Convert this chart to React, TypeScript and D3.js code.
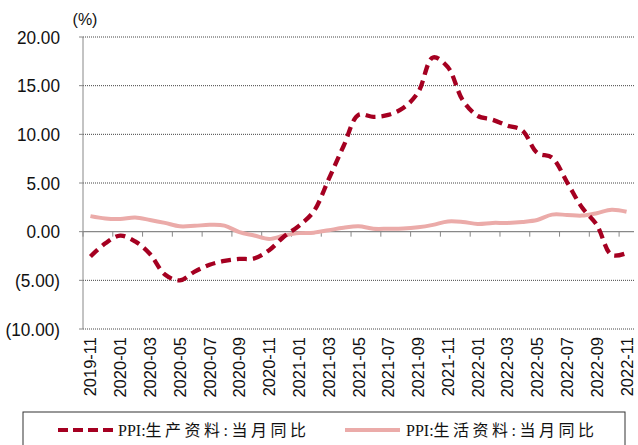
import React from "react";
import * as d3 from "d3";

const categories: string[] = [
  "2019-11","2019-12","2020-01","2020-02","2020-03","2020-04","2020-05","2020-06","2020-07","2020-08","2020-09","2020-10",
  "2020-11","2020-12","2021-01","2021-02","2021-03","2021-04","2021-05","2021-06","2021-07","2021-08","2021-09","2021-10",
  "2021-11","2021-12","2022-01","2022-02","2022-03","2022-04","2022-05","2022-06","2022-07","2022-08","2022-09","2022-10","2022-11",
];

const producerGoods: number[] = [
  -2.55, -1.2, -0.4, -1.0, -2.3, -4.4, -5.0, -4.1, -3.4, -3.0, -2.8, -2.75,
  -1.9, -0.5, 0.6, 2.1, 5.4, 8.8, 12.0, 11.8, 12.0, 12.7, 14.3, 17.9,
  16.9, 13.5, 11.9, 11.5, 10.9, 10.4, 8.1, 7.6, 5.1, 2.5, 0.7, -2.4, -2.2,
];

const consumerGoods: number[] = [
  1.6, 1.35, 1.3, 1.45, 1.2, 0.9, 0.55, 0.6, 0.7, 0.62, -0.05, -0.4,
  -0.75, -0.4, -0.15, -0.1, 0.15, 0.4, 0.55, 0.3, 0.3, 0.32, 0.45, 0.7,
  1.05, 1.0, 0.8, 0.9, 0.9, 1.0, 1.2, 1.75, 1.72, 1.65, 1.9, 2.25, 2.05,
];

const yTicks: number[] = [20, 15, 10, 5, 0, -5, -10];
const seriesPrefix = "PPI:";
const seriesNames: string[] = ["生产资料:当月同比", "生活资料:当月同比"];

const fmt = (v: number) => (v < 0 ? `(${Math.abs(v).toFixed(2)})` : v.toFixed(2));

export default function App() {
  const W = 638, H = 445;
  const left = 83, right = 634, top = 37, bottom = 329;
  const x = d3.scaleBand<string>().domain(categories).range([left, right]).padding(0);
  const y = d3.scaleLinear().domain([-10, 20]).range([bottom, top]);
  const cx = (i: number) => (x(categories[i]) as number) + x.bandwidth() / 2;
  const line = d3
    .line<number>()
    .x((_, i) => cx(i))
    .y((d) => y(d))
    .curve(d3.curveCatmullRom.alpha(0.5));
  const y0 = y(0);
  const sans = "'Liberation Sans', Arial, sans-serif";
  const serif = "'Liberation Serif', 'Noto Sans CJK SC', serif";
  const tickIdx = d3.range(0, categories.length + 1, 2);
  const labelIdx = d3.range(0, categories.length, 2);

  return (
    <svg width={W} height={H} style={{ position: "absolute", left: 0, top: 0, background: "#fff" }}>
      {yTicks.filter((t) => t !== 0).map((t) => (
        <line key={t} x1={left} x2={right} y1={y(t)} y2={y(t)} stroke="#444" strokeWidth={1} strokeDasharray="1,1" />
      ))}
      <line x1={left} x2={left} y1={top} y2={bottom} stroke="#888" strokeWidth={1} />
      {yTicks.map((t) => (
        <g key={"yt" + t}>
          <line x1={left - 4} x2={left} y1={y(t)} y2={y(t)} stroke="#888" />
          <text
            transform={`translate(60,${y(t)}) scale(0.93,1)`}
            dy="0.36em"
            textAnchor="end"
            fontFamily={sans}
            fontSize={18.5}
            fill="#111"
          >
            {fmt(t)}
          </text>
        </g>
      ))}
      <text x={85} y={25} textAnchor="middle" fontFamily={sans} fontSize={16} fill="#111">(%)</text>
      <line x1={left} x2={right} y1={y0} y2={y0} stroke="#888" strokeWidth={1.2} />
      {tickIdx.map((k) => {
        const xx = left + k * x.bandwidth();
        return <line key={"xt" + k} x1={xx} x2={xx} y1={y0} y2={y0 + 5} stroke="#888" />;
      })}
      {labelIdx.map((i) => (
        <text
          key={"xl" + i}
          transform={`translate(${cx(i) + 6},${337}) rotate(-90)`}
          textAnchor="end"
          fontFamily={sans}
          fontSize={16.5}
          fill="#111"
        >
          {categories[i]}
        </text>
      ))}
      <path d={line(consumerGoods) || ""} fill="none" stroke="#EBABA9" strokeWidth={4} />
      <path d={line(producerGoods) || ""} fill="none" stroke="#A50021" strokeWidth={4.3} strokeDasharray="10,6" />
      <rect x={23} y={412} width={602} height={40} fill="#fff" stroke="#333" strokeWidth={1} />
      <line x1={58} x2={113} y1={430} y2={430} stroke="#A50021" strokeWidth={4} strokeDasharray="10,5" />
      <text x={118} y={430} dy="0.36em" fontFamily={serif} fontSize={16} fill="#111">
        <tspan>{seriesPrefix}</tspan>
        <tspan letterSpacing={3.5}>{seriesNames[0]}</tspan>
      </text>
      <line x1={345} x2={400} y1={430} y2={430} stroke="#EBABA9" strokeWidth={4} />
      <text x={406} y={430} dy="0.36em" fontFamily={serif} fontSize={16} fill="#111">
        <tspan>{seriesPrefix}</tspan>
        <tspan letterSpacing={3.5}>{seriesNames[1]}</tspan>
      </text>
    </svg>
  );
}
